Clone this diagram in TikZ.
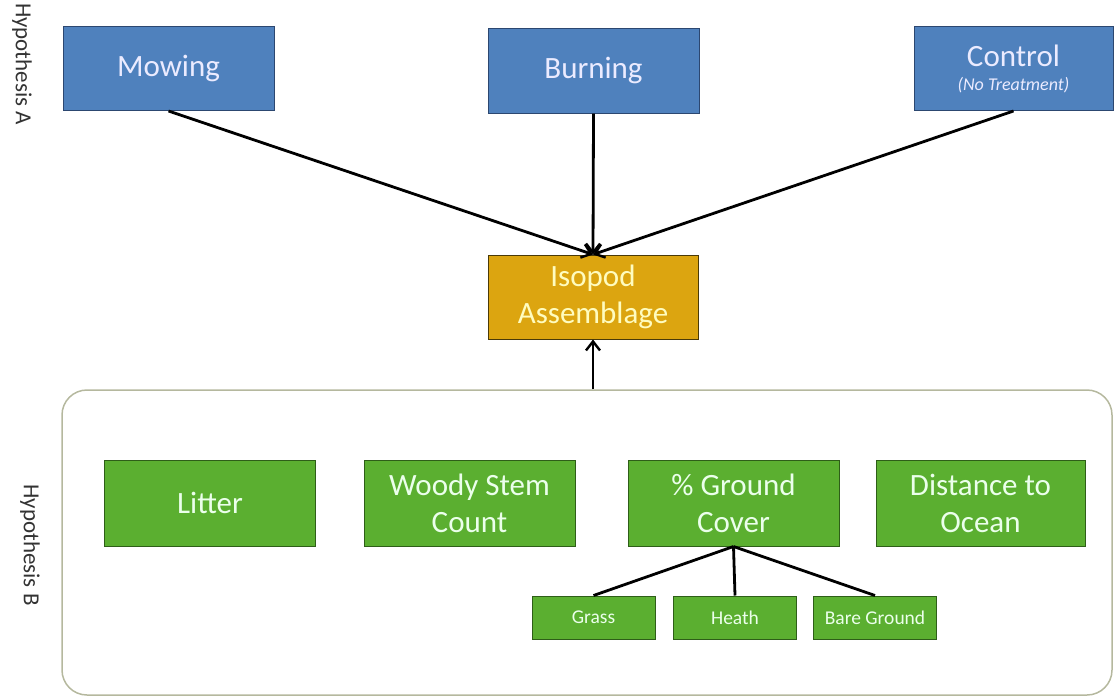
\documentclass[tikz,border=0pt]{standalone}
\usepackage{fontspec}
\setmainfont{Carlito}
\usetikzlibrary{arrows.meta}
\definecolor{bluefill}{HTML}{4F81BD}
\definecolor{blueline}{HTML}{2C4770}
\definecolor{goldfill}{HTML}{DCA510}
\definecolor{goldline}{HTML}{4A3A08}
\definecolor{greenfill}{HTML}{5BAF30}
\definecolor{greenline}{HTML}{2E5E18}
\definecolor{contline}{HTML}{B5B89E}
\definecolor{labelgray}{HTML}{333333}
\tikzset{
  bluebox/.style={draw=blueline, fill=bluefill, line width=1pt, text=white!92!blue,
    minimum width=211pt, minimum height=84pt, inner sep=0pt, align=center,
    font=\fontsize{31}{36}\selectfont},
  goldbox/.style={draw=goldline, fill=goldfill, line width=1pt, text=yellow!25!white,
    minimum width=210pt, minimum height=84pt, inner sep=0pt, align=center,
    font=\fontsize{31}{37}\selectfont},
  greenbox/.style={draw=greenline, fill=greenfill, line width=1pt, text=green!8!white,
    minimum width=211pt, minimum height=86pt, inner sep=0pt, align=center,
    font=\fontsize{31}{37}\selectfont},
  smallbox/.style={draw=greenline, fill=greenfill, line width=1pt, text=green!8!white,
    minimum width=123pt, minimum height=43pt, inner sep=0pt, align=center,
    font=\fontsize{19.5}{21}\selectfont},
  container/.style={draw=contline, line width=1.5pt, rounded corners=25pt,
    minimum width=1050pt, minimum height=305pt, inner sep=0pt},
  arr/.style={-{Straight Barb[length=9pt,width=14pt,line width=2.4pt]}, line width=2.8pt, black},
  conn/.style={line width=2.8pt, black},
  hyp/.style={rotate=-90, text=labelgray, font=\fontsize{23}{25}\selectfont}
}
\begin{document}
\begin{tikzpicture}[x=1pt,y=-1pt]
\useasboundingbox (0,0) rectangle (1116,697);
\node[hyp] (hypa) at (22,64) {Hypothesis A};
\node[hyp] (hypbl) at (30,545) {Hypothesis B};
\node[bluebox] (mow) at (168.5,68.5) {Mowing};
\node[bluebox, minimum height=85pt] (burn) at (593.5,70.5) {Burning};
\node[bluebox, minimum width=199pt] (ctrl) at (1013.5,68.5) {Control\\[-12pt]{\fontsize{18}{20}\selectfont\itshape (No Treatment)}};
\node[goldbox] (iso) at (593,297) {Isopod\\Assemblage};
\node[container] (hypb) at (587,542.5) {};
\node[greenbox] (litter) at (210,503) {Litter};
\node[greenbox] (woody) at (469.5,503) {Woody Stem\\Count};
\node[greenbox] (ground) at (733.5,503) {\% Ground\\Cover};
\node[greenbox, minimum width=209pt] (ocean) at (980.5,503) {Distance to\\Ocean};
\node[smallbox] (grass) at (593.5,617.5) {Grass};
\node[smallbox] (heath) at (735,617.5) {Heath};
\node[smallbox] (bare) at (875,617.5) {Bare Ground};
\draw[arr] (mow.south) -- (iso.north);
\draw[arr] (burn.south) -- (iso.north);
\draw[arr] (ctrl.south) -- (iso.north);
\draw[arr] (hypb.north -| iso.south) -- (iso.south);
\draw[conn] (ground.south) -- (grass.north);
\draw[conn] (ground.south) -- (heath.north);
\draw[conn] (ground.south) -- (bare.north);
\end{tikzpicture}
\end{document}
